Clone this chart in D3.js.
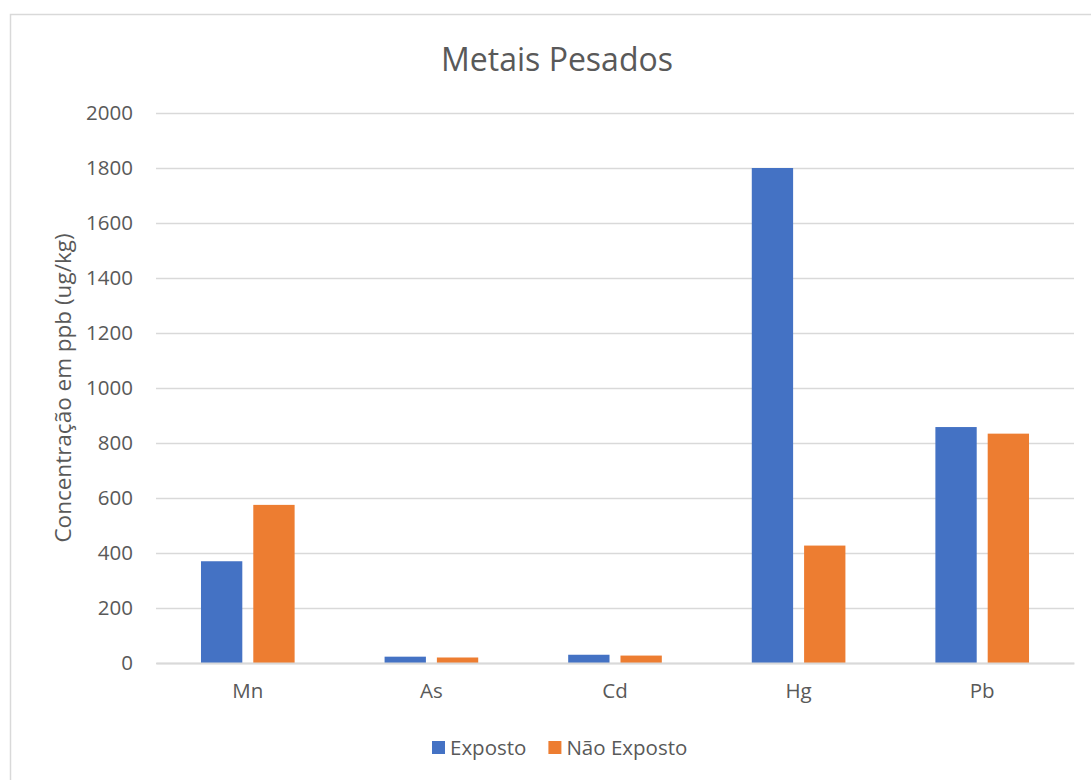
<!DOCTYPE html>
<html lang="pt">

<head>
    <title>Metais Pesados</title>
    <meta charset="UTF-8">
    <script src="https://cdn.jsdelivr.net/npm/d3@7"></script>
    <style>
        body {
            margin: 0;
            background: #fff;
        }
        text {
            font-family: "Open Sans", sans-serif;
            fill: #595959;
        }
    </style>
</head>

<body>
    <script>
        // dados
        var categories = ['Mn', 'As', 'Cd', 'Hg', 'Pb'];
        var seriesNames = ['Exposto', 'Não Exposto'];
        var exposto = [370, 23, 30, 1800, 858];
        var naoExposto = [575, 20, 27, 427, 834];
        var yTicks = [0, 200, 400, 600, 800, 1000, 1200, 1400, 1600, 1800, 2000];
        var colors = ['#4472C4', '#ED7D31'];

        var width = 1091,
            height = 780;
        var plot = { left: 156, right: 1074, top: 113, bottom: 663 };

        var svg = d3.select('body').append('svg')
            .attr('width', width)
            .attr('height', height);

        // moldura
        svg.append('rect')
            .attr('x', 10.5).attr('y', 14.5)
            .attr('width', 1100).attr('height', 800)
            .attr('fill', '#fff')
            .attr('stroke', '#d9d9d9')
            .attr('stroke-width', 1.5);

        var x0 = d3.scaleBand()
            .domain(categories)
            .range([plot.left, plot.right]);
        var x1 = d3.scaleBand()
            .domain(seriesNames)
            .range([0, x0.bandwidth()])
            .paddingInner(0.21)
            .paddingOuter(0.86);
        var y = d3.scaleLinear()
            .domain([0, 2000])
            .range([plot.bottom, plot.top]);

        // linhas de grade
        var yAxis = d3.axisLeft(y)
            .tickValues(yTicks)
            .tickFormat(d3.format('d'))
            .tickSize(-(plot.right - plot.left))
            .tickPadding(23);
        var gy = svg.append('g')
            .attr('transform', 'translate(' + plot.left + ',0)')
            .call(yAxis);
        gy.select('.domain').remove();
        gy.selectAll('line').attr('stroke', '#d9d9d9').attr('stroke-width', 1.5);
        gy.selectAll('text')
            .style('font-size', '20.5px')
            .attr('fill', '#595959');

        // barras
        var rows = categories.map(function(c, i) {
            return { cat: c, values: [exposto[i], naoExposto[i]] };
        });
        svg.append('g').selectAll('g')
            .data(rows)
            .enter()
            .append('g')
            .attr('transform', function(d) { return 'translate(' + x0(d.cat) + ',0)'; })
            .selectAll('rect')
            .data(function(d) { return d.values; })
            .enter()
            .append('rect')
            .attr('x', function(v, i) { return x1(seriesNames[i]); })
            .attr('y', function(v) { return y(v); })
            .attr('width', x1.bandwidth())
            .attr('height', function(v) { return y(0) - y(v); })
            .attr('fill', function(v, i) { return colors[i]; });

        // eixo x
        var xAxis = d3.axisBottom(x0).tickSize(0).tickPadding(20);
        var gx = svg.append('g')
            .attr('transform', 'translate(0,' + plot.bottom + ')')
            .call(xAxis);
        gx.select('.domain').attr('stroke', '#d9d9d9').attr('stroke-width', 2);
        gx.selectAll('text')
            .style('font-size', '20.5px')
            .attr('fill', '#595959');

        // título
        svg.append('text')
            .attr('x', 557)
            .attr('y', 71)
            .attr('text-anchor', 'middle')
            .style('font-size', '32px')
            .text('Metais Pesados');

        // rótulo do eixo y
        svg.append('text')
            .attr('transform', 'translate(71,' + (plot.top + plot.bottom) / 2 + ') rotate(-90)')
            .attr('text-anchor', 'middle')
            .style('font-size', '22.5px')
            .text('Concentração em ppb (ug/kg)');

        // legenda
        var legend = svg.append('g').attr('transform', 'translate(432,741)');
        var lx = 0;
        seriesNames.forEach(function(name, i) {
            var item = legend.append('g').attr('transform', 'translate(' + lx + ',0)');
            item.append('rect')
                .attr('width', 13).attr('height', 13)
                .attr('fill', colors[i]);
            var t = item.append('text')
                .attr('x', 18).attr('y', 14)
                .style('font-size', '20.5px')
                .text(name);
            lx += 18 + t.node().getComputedTextLength() + 22;
        });
    </script>
</body>

</html>
